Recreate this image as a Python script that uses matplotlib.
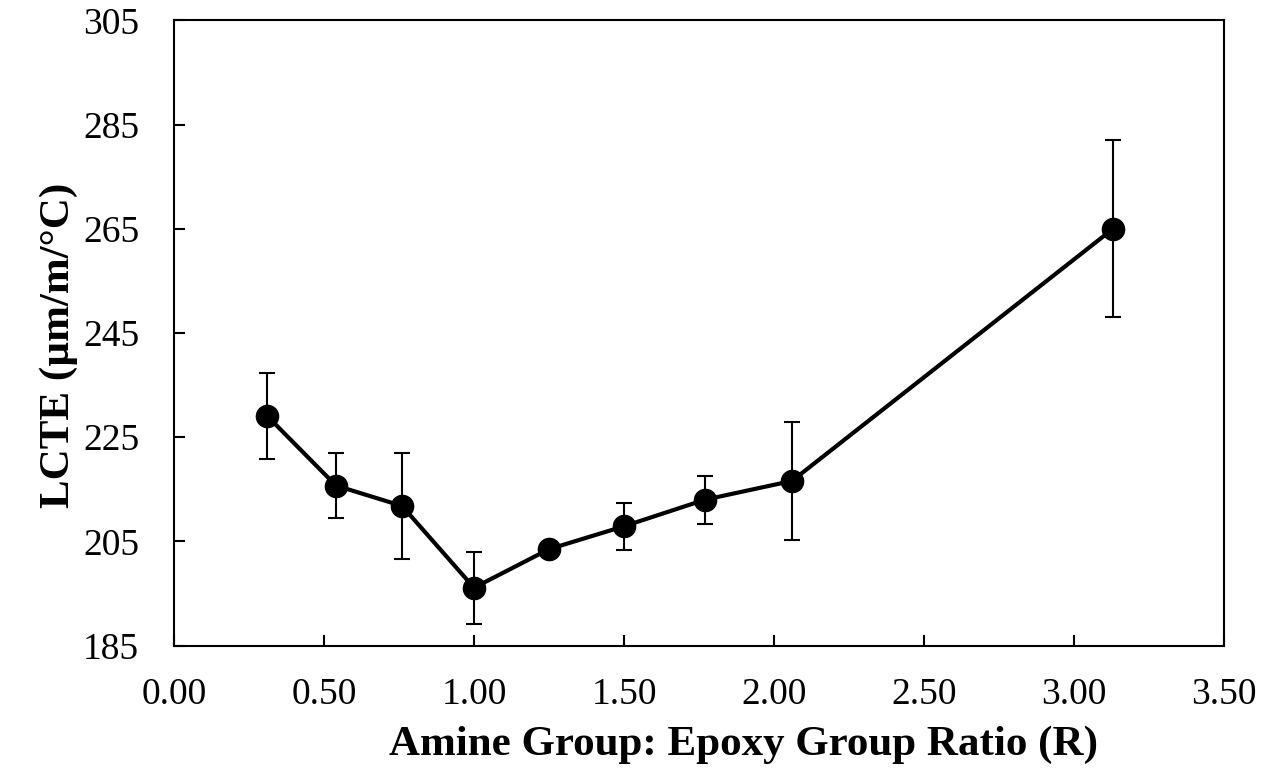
import numpy as np
import matplotlib.pyplot as plt
from matplotlib.ticker import FormatStrFormatter

plt.rcParams['font.family'] = ['Liberation Serif', 'DejaVu Serif']

# amine:epoxy ratio vs linear CTE
ratio = [0.31, 0.54, 0.76, 1.00, 1.25, 1.50, 1.77, 2.06, 3.13]
lcte = [229.1, 215.7, 211.8, 196.1, 203.5, 207.9, 213.0, 216.6, 265.0]
lcte_err = [8.2, 6.2, 10.2, 6.9, 0.0, 4.5, 4.6, 11.4, 17.0]

fig = plt.figure(figsize=(12.76, 7.73), dpi=100)
ax = fig.add_axes([0.1364, 0.1649, 0.8228, 0.8086])

ax.errorbar(ratio, lcte, yerr=lcte_err, fmt='none', ecolor='black',
            elinewidth=1.5, capsize=6, capthick=1.5, zorder=2)
ax.plot(ratio, lcte, color='black', linewidth=3, marker='o',
        markersize=16, zorder=3)

ax.set_xlim(0, 3.5)
ax.set_ylim(185, 305)
ax.set_xticks(np.arange(0, 3.51, 0.5))
ax.set_yticks(np.arange(185, 306, 20))
ax.xaxis.set_major_formatter(FormatStrFormatter('%.2f'))

ax.tick_params(direction='in', length=8, width=1.5, labelsize=27)
ax.tick_params(axis='x', pad=23)
ax.tick_params(axis='y', pad=25)
for s in ax.spines.values():
    s.set_linewidth(1.5)

ax.set_xlabel('Amine Group: Epoxy Group Ratio (R)', fontsize=31,
              fontweight='bold', labelpad=10)
ax.set_ylabel('LCTE (\u00b5m/m/\u00b0C)', fontsize=31, fontweight='bold',
              labelpad=4)
# titles sit a little off-centre of the plot area
ax.xaxis.label.set_x(0.542)
ax.yaxis.label.set_y(0.48)

fig.savefig('out.png', dpi=100)
